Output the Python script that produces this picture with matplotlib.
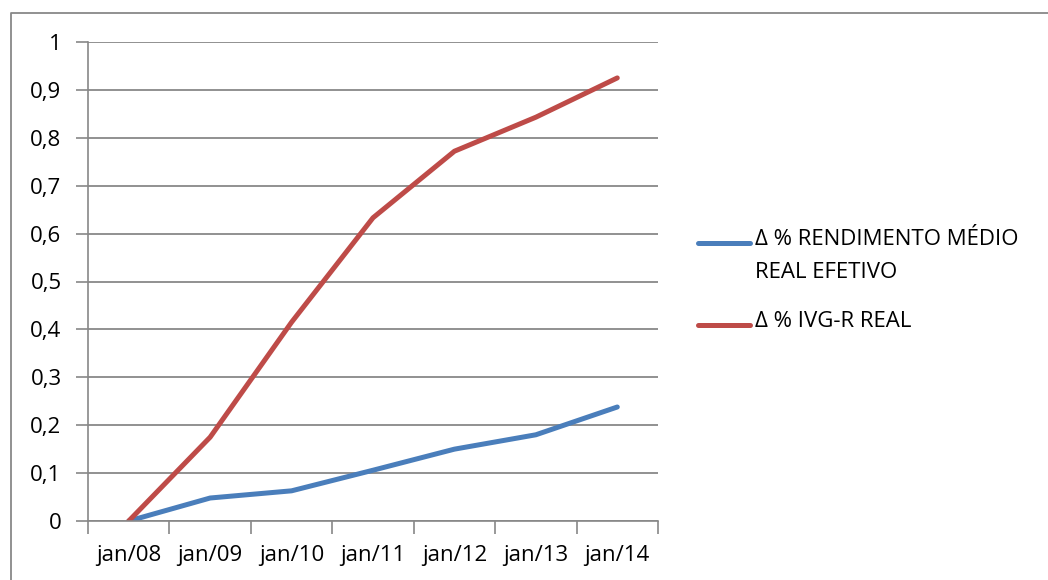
import matplotlib
matplotlib.use("Agg")
import matplotlib.pyplot as plt
from matplotlib.lines import Line2D

categories = ["jan/08", "jan/09", "jan/10", "jan/11", "jan/12", "jan/13", "jan/14"]
rendimento = [0.0, 0.048, 0.063, 0.106, 0.150, 0.180, 0.238]
ivg = [0.0, 0.175, 0.415, 0.633, 0.772, 0.843, 0.925]
yticks = [0, 0.1, 0.2, 0.3, 0.4, 0.5, 0.6, 0.7, 0.8, 0.9, 1.0]
ytick_labels = ["0", "0,1", "0,2", "0,3", "0,4", "0,5", "0,6", "0,7", "0,8", "0,9", "1"]
series_names = ["Δ % RENDIMENTO MÉDIO\nREAL EFETIVO", "Δ % IVG-R REAL"]
series_colors = ["#4A7EBB", "#BE4B48"]

plt.rcParams['font.family'] = ['Open Sans', 'DejaVu Sans']

W, H = 1048, 580
fig = plt.figure(figsize=(W / 100, H / 100), dpi=100)
# outer chart frame (only left and top edges fall inside the image)
fig.lines.append(Line2D([10.5 / W, 10.5 / W, 1.0], [0.0, 1 - 12.5 / H, 1 - 12.5 / H],
                        transform=fig.transFigure, color="#888888", linewidth=1.3))

ax = fig.add_axes([88 / W, 1 - 521 / H, (658 - 88) / W, (521 - 42) / H])
x = list(range(len(categories)))
for vals, col, name in zip([rendimento, ivg], series_colors, series_names):
    ax.plot(x, vals, color=col, linewidth=3.6, solid_capstyle="round", label=name)

ax.set_xlim(-0.5, len(categories) - 0.5)
ax.set_ylim(0, 1)
ax.set_yticks(yticks)
ax.set_yticklabels(ytick_labels)
ax.set_xticks(x)
ax.set_xticklabels(categories)
ax.set_xticks([i - 0.5 for i in range(len(categories) + 1)], minor=True)
ax.tick_params(axis="x", which="major", length=0, pad=17, labelsize=16, colors="black")
ax.tick_params(axis="x", which="minor", length=9, color="#888888", width=1.2)
ax.tick_params(axis="y", length=9, color="#888888", width=1.2, labelsize=16, pad=10)
ax.grid(axis="y", color="#888888", linewidth=1.3)
ax.set_axisbelow(True)
for s in ["top", "right"]:
    ax.spines[s].set_visible(False)
for s in ["left", "bottom"]:
    ax.spines[s].set_color("#888888")
    ax.spines[s].set_linewidth(1.2)

# legend drawn by hand: handle aligned with the first text line (Excel style)
legend_y = [243, 325]
for col, name, yp in zip(series_colors, series_names, legend_y):
    yf = 1 - yp / H
    fig.lines.append(Line2D([698 / W, 750 / W], [yf, yf], transform=fig.transFigure,
                            color=col, linewidth=3.6, solid_capstyle="round"))
    fig.text(755 / W, 1 - (yp - 14) / H, name, fontsize=16, ha="left", va="top",
             linespacing=1.75)

fig.savefig("out.png", dpi=100)
